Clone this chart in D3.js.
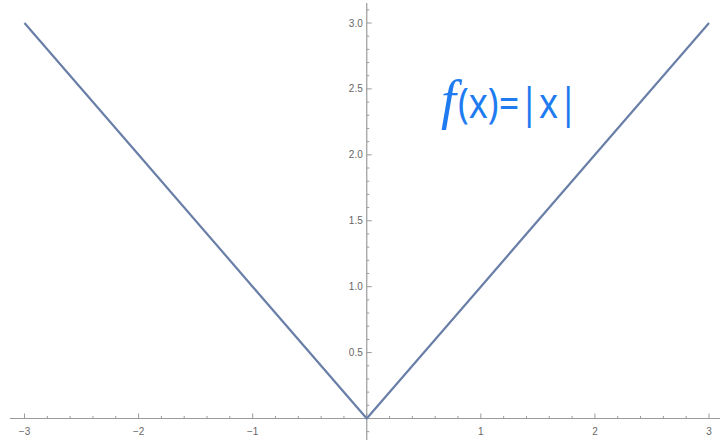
<!DOCTYPE html>
<html>
<head>
<meta charset="utf-8">
<script src="https://cdn.jsdelivr.net/npm/d3@7"></script>
<style>
  html, body { margin: 0; padding: 0; background: #fff; }
  svg { display: block; }
</style>
</head>
<body>
<svg id="chart" width="720" height="446"></svg>
<script>
// Plot of f(x) = |x| on [-3, 3]
const xSamples = [-3, -2, -1, 0, 1, 2, 3];
const ySamples = [3, 2, 1, 0, 1, 2, 3];
const xTickValues = [-3, -2, -1, 1, 2, 3];
const xTickLabels = ["\u22123", "\u22122", "\u22121", "1", "2", "3"];
const yTickValues = [0.5, 1.0, 1.5, 2.0, 2.5, 3.0];
const yTickLabels = ["0.5", "1.0", "1.5", "2.0", "2.5", "3.0"];
const formulaHead = "f";
const formulaRest = "(x)=|x|";

const svg = d3.select("#chart");

const x = d3.scaleLinear().domain([-3, 3]).range([24.5, 709]);
const y = d3.scaleLinear().domain([0, 3]).range([418.5, 23]);

const axisColor = "#9a9a9a";
const labelColor = "#666";

// x axis line and ticks (ticks point upward)
const gx = svg.append("g");
gx.append("line")
  .attr("x1", 10).attr("x2", 720)
  .attr("y1", y(0)).attr("y2", y(0))
  .attr("stroke", axisColor).attr("stroke-width", 1.2);

const xMinor = d3.range(-15, 16).map(i => i / 5);
gx.selectAll("line.xt").data(xMinor).enter().append("line")
  .attr("x1", d => x(d)).attr("x2", d => x(d))
  .attr("y1", y(0))
  .attr("y2", d => y(0) - (Math.abs(d - Math.round(d)) < 1e-9 ? 5 : 2.5))
  .attr("stroke", axisColor).attr("stroke-width", 1);

gx.selectAll("text").data(xTickValues).enter().append("text")
  .attr("x", d => x(d)).attr("y", y(0) + 16)
  .attr("text-anchor", "middle")
  .attr("font-family", "Liberation Sans, Arial, sans-serif")
  .attr("font-size", 10).attr("fill", labelColor)
  .text((d, i) => xTickLabels[i]);

// y axis line and ticks (ticks point right)
const gy = svg.append("g");
gy.append("line")
  .attr("x1", x(0)).attr("x2", x(0))
  .attr("y1", 3).attr("y2", 440)
  .attr("stroke", axisColor).attr("stroke-width", 1.2);

const yMinor = d3.range(-1, 32).map(i => i / 10);
gy.selectAll("line.yt").data(yMinor).enter().append("line")
  .attr("x1", x(0))
  .attr("x2", d => x(0) + (Math.abs(d * 2 - Math.round(d * 2)) < 1e-9 ? 5 : 2.5))
  .attr("y1", d => y(d)).attr("y2", d => y(d))
  .attr("stroke", axisColor).attr("stroke-width", 1);

gy.selectAll("text").data(yTickValues).enter().append("text")
  .attr("x", x(0) - 4).attr("y", d => y(d) + 3.5)
  .attr("text-anchor", "end")
  .attr("font-family", "Liberation Sans, Arial, sans-serif")
  .attr("font-size", 10).attr("fill", labelColor)
  .text((d, i) => yTickLabels[i]);

// the curve
const pts = xSamples.map((d, i) => [d, ySamples[i]]);
svg.append("path")
  .datum(pts)
  .attr("fill", "none")
  .attr("stroke", "#6a7fa8")
  .attr("stroke-width", 2.2)
  .attr("stroke-linejoin", "round")
  .attr("d", d3.line().x(d => x(d[0])).y(d => y(d[1])));

// formula annotation
const formula = svg.append("text")
  .attr("x", 441).attr("y", 118)
  .attr("fill", "#1f7cf0");
formula.append("tspan")
  .attr("font-family", "Liberation Serif, serif")
  .attr("font-style", "italic")
  .attr("font-size", 54)
  .text(formulaHead);
formula.append("tspan")
  .attr("dx", 2)
  .attr("font-family", "Noto Sans, sans-serif")
  .attr("font-weight", 400)
  .attr("font-size", 42)
  .attr("textLength", 120)
  .attr("lengthAdjust", "spacingAndGlyphs")
  .text(formulaRest);
</script>
</body>
</html>
